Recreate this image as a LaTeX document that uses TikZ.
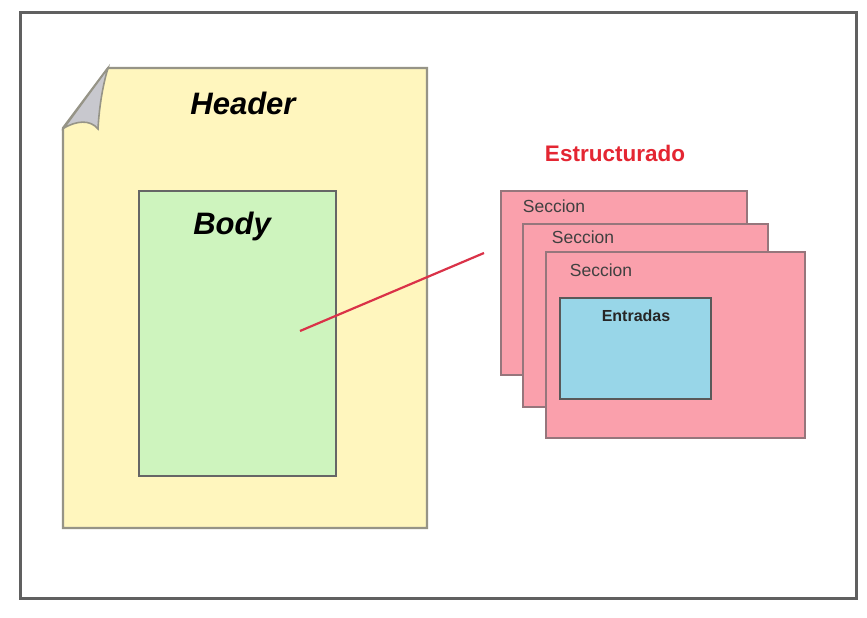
\documentclass[tikz,border=0pt]{standalone}
\usepackage{fontspec}
\setmainfont{Liberation Sans}
\definecolor{pageyellow}{RGB}{255,246,190}
\definecolor{bodygreen}{RGB}{206,244,190}
\definecolor{secpink}{RGB}{250,160,172}
\definecolor{entblue}{RGB}{152,214,232}
\definecolor{edgegray}{RGB}{150,148,135}
\definecolor{secedge}{RGB}{150,118,124}
\definecolor{linkred}{RGB}{218,50,72}
\definecolor{titlered}{RGB}{228,38,50}
\definecolor{foldgray}{RGB}{200,200,206}
\tikzset{
  framebox/.style={draw=gray!75!black, line width=3pt},
  pagebox/.style={fill=pageyellow, draw=edgegray, line width=2.2pt},
  bodybox/.style={fill=bodygreen, draw=gray!80!black, line width=2pt},
  secbox/.style={fill=secpink, draw=secedge, line width=2.2pt},
  entbox/.style={fill=entblue, draw=gray!70!black, line width=2pt},
  bigitalic/.style={font=\fontsize{31}{34}\selectfont\bfseries\itshape, text=black},
  seclabel/.style={font=\fontsize{17.5}{20}\selectfont, text=black!75},
  entlabel/.style={font=\fontsize{16}{18}\selectfont\bfseries, text=black!85},
  titlelabel/.style={font=\fontsize{22.5}{25}\selectfont\bfseries, text=titlered},
  linkline/.style={draw=linkred, line width=2.2pt}
}
\begin{document}
\begin{tikzpicture}[x=1pt,y=-1pt]
\useasboundingbox (0,0) rectangle (867,618);
\fill[white] (0,0) rectangle (867,618);
% outer frame
\draw[framebox] (20,13) rectangle (856,598);
% page with folded corner
\path[pagebox] (108,68) -- (427,68) -- (427,528) -- (63,528) -- (63,128) -- cycle;
\path[fill=foldgray, draw=edgegray, line width=1.6pt]
  (108,68) -- (64,128) .. controls (76,121) and (90,119) .. (98,129)
  .. controls (99,110) and (102,88) .. (108,68) -- cycle;
\node[bigitalic] (header) at (243,103) {Header};
% body
\node[bodybox, minimum width=197pt, minimum height=285pt, anchor=north west, inner sep=0pt] (body) at (138,190) {};
\node[bigitalic] (bodylabel) at (232,226) {Body};
% sections
\node[titlelabel] (title) at (615,153) {Estructurado};
\node[secbox, minimum width=246pt, minimum height=184pt, anchor=north west, inner sep=0pt] (sec1) at (500,190) {};
\node[seclabel] (sec1label) at (554,206) {Seccion};
\node[secbox, minimum width=245pt, minimum height=183pt, anchor=north west, inner sep=0pt] (sec2) at (522,223) {};
\node[seclabel] (sec2label) at (583,237) {Seccion};
\node[secbox, minimum width=259pt, minimum height=186pt, anchor=north west, inner sep=0pt] (sec3) at (545,251) {};
\node[seclabel] (sec3label) at (601,270) {Seccion};
\node[entbox, minimum width=151pt, minimum height=101pt, anchor=north west, inner sep=0pt] (ent) at (559,297) {};
\node[entlabel] (entlabel) at (636,316) {Entradas};
% link
\coordinate (linkstart) at (300,331);
\coordinate (linkend) at (484,253);
\draw[linkline] (linkstart) -- (linkend);
\end{tikzpicture}
\end{document}
